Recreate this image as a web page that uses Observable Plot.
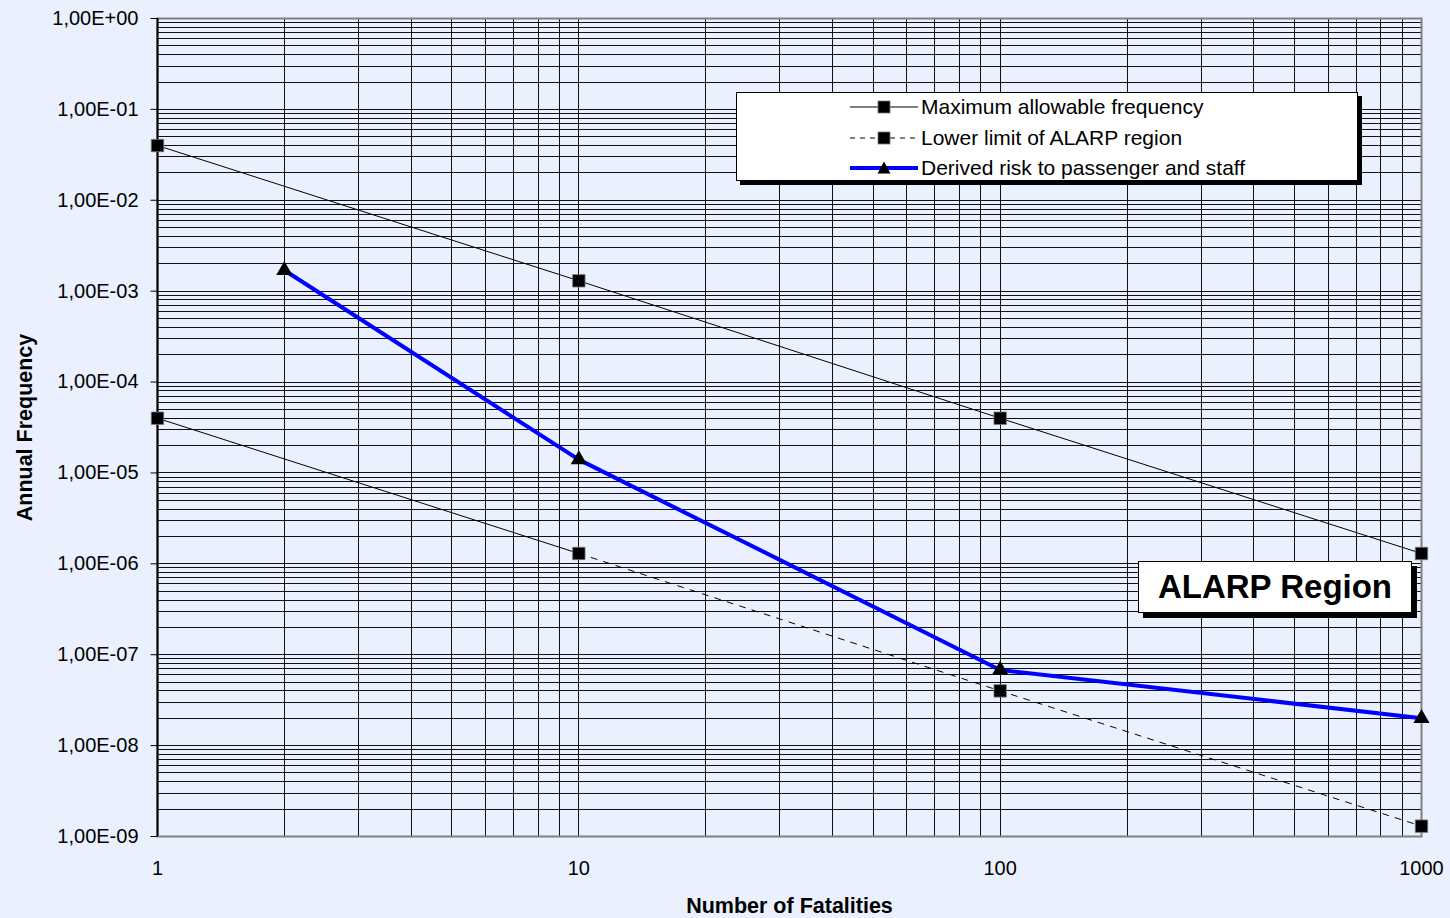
<!DOCTYPE html>
<html>
<head>
<meta charset="utf-8">
<script src="https://cdn.jsdelivr.net/npm/d3@7"></script>
<script src="https://cdn.jsdelivr.net/npm/@observablehq/plot@0.6"></script>
<style>
  html, body { margin: 0; padding: 0; background: #EAF0FE; }
  body { font-family: "Liberation Sans", Arial, sans-serif; }
  #wrap { position: relative; width: 1450px; height: 918px; overflow: hidden; background: #EAF0FE; }
  #wrap > svg { position: absolute; left: 0; top: 0; }
  .legend {
    position: absolute; left: 736px; top: 92px; width: 622px; height: 89px;
    background: #fff; border: 1px solid #000; box-shadow: 4px 4px 0 #000;
    box-sizing: border-box;
  }
  .row { position: absolute; left: 113px; height: 28px; display: flex; align-items: center; font-size: 21px; color: #000; white-space: nowrap; }
  .row svg { display: block; margin-right: 3px; }
  .alarp {
    position: absolute; left: 1138px; top: 561px; width: 274px; height: 52px;
    background: #fff; border: 1px solid #000; box-shadow: 5px 5px 0 #000; box-sizing: border-box;
    font-weight: bold; font-size: 33px; text-align: center; line-height: 50px; color: #000;
  }
</style>
</head>
<body>
<div id="wrap"></div>
<script>
// ---- data ----
const fatalities = [1, 10, 100, 1000];
const maxFreq = [4e-2, 1.3e-3, 4e-5, 1.3e-6];
const lowerFreq = [4e-5, 1.3e-6, 4e-8, 1.3e-9];
const derivedX = [2, 10, 100, 1000];
const derivedFreq = [1.7e-3, 1.4e-5, 6.8e-8, 2e-8];

const xTicks = [1, 10, 100, 1000];
const xTickLabels = ["1", "10", "100", "1000"];
const yTicks = [1, 1e-1, 1e-2, 1e-3, 1e-4, 1e-5, 1e-6, 1e-7, 1e-8, 1e-9];
const yTickLabels = ["1,00E+00", "1,00E-01", "1,00E-02", "1,00E-03", "1,00E-04",
                     "1,00E-05", "1,00E-06", "1,00E-07", "1,00E-08", "1,00E-09"];
const multiples = [1, 2, 3, 4, 5, 6, 7, 8, 9];
const xDecades = [1, 10, 100];
const yDecades = [1e-9, 1e-8, 1e-7, 1e-6, 1e-5, 1e-4, 1e-3, 1e-2, 1e-1];

const seriesNames = ["Maximum allowable frequency", "Lower limit of ALARP region", "Derived risk to passenger and staff"];

// ---- tables ----
const xGrid = xDecades.flatMap(d => multiples.map(m => m * d)).concat([1000]);
const yGrid = yDecades.flatMap(d => multiples.map(m => +(m * d).toPrecision(3))).concat([1]);
const maxData = fatalities.map((x, i) => ({x, y: maxFreq[i]}));
const lowerData = fatalities.map((x, i) => ({x, y: lowerFreq[i]}));
const derivedData = derivedX.map((x, i) => ({x, y: derivedFreq[i]}));

const tickSym = { draw(ctx) { ctx.moveTo(-7, 0); ctx.lineTo(0, 0); } };
const font = "Liberation Sans, Arial, sans-serif";

const chart = Plot.plot({
  width: 1450, height: 918,
  marginLeft: 157, marginRight: 29, marginTop: 18, marginBottom: 82,
  style: { background: "transparent", fontFamily: font, overflow: "visible" },
  x: { type: "log", domain: [1, 1000], axis: null },
  y: { type: "log", domain: [1e-9, 1], axis: null },
  marks: [
    Plot.ruleX(xGrid, { x: d => d, stroke: "#111", strokeWidth: 1, shapeRendering: "crispEdges" }),
    Plot.ruleY(yGrid, { y: d => d, stroke: "#111", strokeWidth: 1, shapeRendering: "crispEdges" }),
    Plot.frame({ stroke: "#808080", strokeWidth: 2 }),
    Plot.ruleX([1], { stroke: "#000", strokeWidth: 2 }),
    Plot.dot(yTicks, { x: 1, y: d => d, symbol: tickSym, r: 1, stroke: "#000", fill: "none", strokeWidth: 1 }),
    Plot.text(yTicks, { x: 1, y: d => d, text: (d, i) => yTickLabels[i], textAnchor: "end", lineAnchor: "middle", dx: -19, fontSize: 20, fill: "#000" }),
    Plot.text(xTicks, { x: d => d, y: 1e-9, text: (d, i) => xTickLabels[i], lineAnchor: "bottom", dy: 38, fontSize: 20, fill: "#000" }),
    Plot.text(["Number of Fatalities"], { frameAnchor: "bottom", textAnchor: "middle", lineAnchor: "bottom", dy: 76, fontSize: 21.5, fontWeight: "bold", fill: "#000" }),
    Plot.text(["Annual Frequency"], { frameAnchor: "left", textAnchor: "middle", rotate: -90, lineAnchor: "middle", dx: -132, fontSize: 21.5, fontWeight: "bold", fill: "#000" }),
    // series
    Plot.line(maxData, { x: "x", y: "y", stroke: "#000", strokeWidth: 1 }),
    Plot.line(lowerData.slice(0, 2), { x: "x", y: "y", stroke: "#000", strokeWidth: 1 }),
    Plot.line(lowerData.slice(1), { x: "x", y: "y", stroke: "#000", strokeWidth: 1, strokeDasharray: "6,7" }),
    Plot.line(derivedData, { x: "x", y: "y", stroke: "#0000FF", strokeWidth: 4 }),
    Plot.dot(maxData, { x: "x", y: "y", symbol: "square", r: 7, fill: "#000", stroke: "#777", strokeWidth: 0.8 }),
    Plot.dot(lowerData, { x: "x", y: "y", symbol: "square", r: 7, fill: "#000", stroke: "#777", strokeWidth: 0.8 }),
    Plot.dot(derivedData, { x: "x", y: "y", symbol: "triangle", r: 6, fill: "#000" })
  ]
});

const wrap = document.getElementById("wrap");
wrap.appendChild(chart);

// legend
const legend = document.createElement("div");
legend.className = "legend";
const swatches = [
  `<svg width="68" height="14"><line x1="0" y1="7" x2="68" y2="7" stroke="#000" stroke-width="1"/><rect x="28" y="1" width="12" height="12" fill="#000" stroke="#777" stroke-width="0.8"/></svg>`,
  `<svg width="68" height="14"><line x1="0" y1="7" x2="68" y2="7" stroke="#000" stroke-width="1" stroke-dasharray="5,5"/><rect x="28" y="1" width="12" height="12" fill="#000" stroke="#777" stroke-width="0.8"/></svg>`,
  `<svg width="68" height="14"><line x1="0" y1="7" x2="68" y2="7" stroke="#0000FF" stroke-width="4"/><path d="M34,0.5 L40.5,12.5 L27.5,12.5 Z" fill="#000"/></svg>`
];
seriesNames.forEach((name, i) => {
  const row = document.createElement("div");
  row.className = "row";
  row.style.top = (0 + i * 30.5) + "px";
  row.innerHTML = swatches[i] + `<span>${name}</span>`;
  legend.appendChild(row);
});
wrap.appendChild(legend);

const alarp = document.createElement("div");
alarp.className = "alarp";
alarp.textContent = "ALARP Region";
wrap.appendChild(alarp);
</script>
</body>
</html>
